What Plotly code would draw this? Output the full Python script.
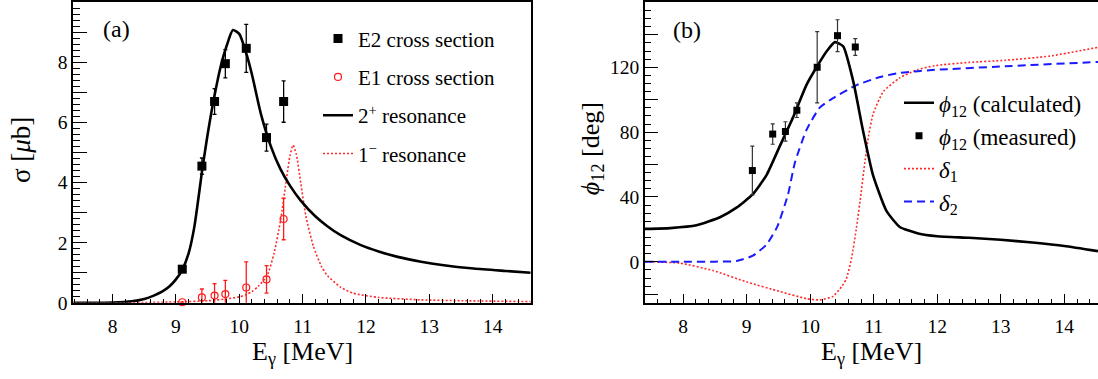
import plotly.graph_objects as go

# ---------------- Panel (a) data ----------------
e_pts = [9.10, 9.41, 9.61, 9.78, 10.11, 10.43, 10.70]
e2_sigma = [1.12, 4.55, 6.70, 7.96, 8.47, 5.50, 6.70]
e2_err = [0.08, 0.27, 0.43, 0.47, 0.80, 0.45, 0.69]
e1_sigma = [0.02, 0.18, 0.24, 0.29, 0.51, 0.78, 2.79]
e1_err = [0.0, 0.28, 0.40, 0.46, 0.85, 0.46, 0.69]

x_2plus = [7.38, 8.0, 8.3, 8.5, 8.65, 8.78, 8.9, 9.0, 9.1, 9.2, 9.29, 9.42, 9.5, 9.6,
           9.71, 9.8, 9.9, 10.0, 10.11, 10.2, 10.34, 10.5, 10.65, 10.8, 10.97, 11.2,
           11.39, 11.6, 11.91, 12.2, 12.5, 12.87, 13.2, 13.7, 14.2, 14.6]
y_2plus = [0.0, 0.01, 0.05, 0.13, 0.24, 0.37, 0.55, 0.78, 1.1, 1.65, 2.52, 4.5, 5.6, 6.8,
           7.9, 8.55, 9.08, 8.95, 8.3, 7.6, 6.3, 5.2, 4.45, 3.9, 3.4, 2.88,
           2.55, 2.25, 1.93, 1.71, 1.53, 1.37, 1.26, 1.14, 1.06, 1.0]

x_1minus = [7.38, 8.5, 9.0, 9.5, 9.8, 10.0, 10.1, 10.2, 10.3, 10.44, 10.55, 10.65, 10.75,
            10.8, 10.85, 10.9, 10.97, 11.05, 11.17, 11.3, 11.39, 11.6, 11.8, 12.2, 12.87,
            13.5, 14.6]
y_1minus = [0.0, 0.01, 0.03, 0.07, 0.13, 0.2, 0.27, 0.37, 0.55, 0.91, 1.66, 2.73, 4.2,
            4.9, 5.25, 4.95, 4.0, 2.9, 1.88, 1.2, 0.91, 0.52, 0.32, 0.18, 0.1,
            0.07, 0.04]

ya_tickvals = [0, 1, 2, 3, 4, 5, 6, 7, 8, 9, 10]
ya_ticktext = ["0", "", "2", "", "4", "", "6", "", "8", "", ""]

# ---------------- Panel (b) data ----------------
phi_meas_x = [9.09, 9.41, 9.61, 9.79, 10.11, 10.43, 10.71]
phi_meas = [56.3, 78.8, 80.4, 93.5, 120.0, 139.5, 132.5]
phi_err = [15.0, 6.3, 6.0, 4.5, 22.0, 9.8, 5.2]

x_phi = [7.4, 7.8, 8.21, 8.58, 8.84, 9.09, 9.31, 9.52, 9.73, 9.94, 10.10, 10.26, 10.39,
         10.52, 10.68, 10.83, 10.99, 11.2, 11.41, 11.7, 12.0, 12.5, 13.0, 13.5, 14.0, 14.53]
y_phi = [20.3, 20.8, 22.5, 27.5, 33.4, 41.4, 53.3, 71.2, 89.1, 109.0, 120.0, 129.9, 135.5,
         132.9, 111.0, 81.2, 53.3, 31.4, 21.5, 17.5, 15.8, 14.8, 13.6, 11.9, 9.8, 6.6]

x_d1 = [7.4, 7.95, 8.47, 9.0, 9.52, 9.94, 10.15, 10.36, 10.5, 10.57, 10.65, 10.73, 10.8,
        10.86, 10.92, 10.99, 11.15, 11.41, 11.69, 11.96, 12.5, 13.07, 13.77, 14.53]
y_d1 = [0.0, -0.8, -5.4, -12.4, -18.3, -22.7, -23.5, -21.3, -15.0, -10.4, 2.0, 21.5, 42.0,
        61.3, 78.0, 91.1, 105.0, 113.5, 118.5, 121.0, 123.0, 124.3, 126.9, 132.3]

x_d2 = [7.4, 8.0, 8.5, 8.84, 9.09, 9.31, 9.48, 9.65, 9.76, 9.94, 10.15, 10.36, 10.73,
        11.1, 11.4, 11.7, 11.96, 13.07, 14.53]
y_d2 = [0.0, 0.0, 0.1, 0.5, 3.6, 10.5, 21.5, 41.4, 61.3, 81.2, 95.1, 101.0, 109.0,
        114.0, 116.5, 117.6, 118.4, 120.6, 123.3]

yb_tickvals = [-20, 0, 20, 40, 60, 80, 100, 120, 140, 160]
yb_ticktext = ["", "0", "", "40", "", "80", "", "120", "", ""]

FONT = "Liberation Serif, Times New Roman, Times, DejaVu Serif, serif"
W, H = 1098, 379

fig = go.Figure()

# panel (a) curves
fig.add_trace(go.Scatter(x=x_1minus, y=y_1minus, mode="lines", name="1<sup>\u2212</sup> resonance",
                         line=dict(color="#ff2a2a", width=1.6, dash="2px,2px", shape="spline", smoothing=0.6),
                         legend="legend", legendrank=4, legendgroup="a4", xaxis="x", yaxis="y"))
fig.add_trace(go.Scatter(x=x_2plus, y=y_2plus, mode="lines", name="2<sup>+</sup> resonance",
                         line=dict(color="black", width=2.6, shape="spline", smoothing=0.6),
                         legend="legend", legendrank=3, legendgroup="a3", xaxis="x", yaxis="y"))
fig.add_trace(go.Scatter(x=e_pts, y=e1_sigma, mode="markers", name="E1 cross section",
                         marker=dict(symbol="circle-open", size=7, color="#ff1a1a", line=dict(width=1.2)),
                         error_y=dict(type="data", array=e1_err, width=2, thickness=1.3, color="#ff1a1a"),
                         cliponaxis=False,
                         legend="legend", legendrank=2, legendgroup="a2", xaxis="x", yaxis="y"))
fig.add_trace(go.Scatter(x=e_pts, y=e2_sigma, mode="markers", name="E2 cross section",
                         marker=dict(symbol="square", size=9, color="black"),
                         error_y=dict(type="data", array=e2_err, width=2, thickness=1.3, color="black"),
                         cliponaxis=False,
                         legend="legend", legendrank=1, legendgroup="a1", xaxis="x", yaxis="y"))

# panel (b) curves
fig.add_trace(go.Scatter(x=x_d1, y=y_d1, mode="lines", name="<i>\u03b4</i><sub>1</sub>",
                         line=dict(color="#ff2a2a", width=1.6, dash="2px,2px", shape="spline", smoothing=0.5),
                         legend="legend2", legendrank=3, legendgroup="b3", xaxis="x2", yaxis="y2"))
fig.add_trace(go.Scatter(x=x_d2, y=y_d2, mode="lines", name="<i>\u03b4</i><sub>2</sub>",
                         line=dict(color="#1a1aff", width=2, dash="8px,5px", shape="spline", smoothing=0.5),
                         legend="legend2", legendrank=4, legendgroup="b4", xaxis="x2", yaxis="y2"))
fig.add_trace(go.Scatter(x=x_phi, y=y_phi, mode="lines", name="<i>\u03d5</i><sub>12</sub> (calculated)",
                         line=dict(color="black", width=2.6, shape="spline", smoothing=0.5),
                         legend="legend2", legendrank=1, legendgroup="b1", xaxis="x2", yaxis="y2"))
fig.add_trace(go.Scatter(x=phi_meas_x, y=phi_meas, mode="markers", name="<i>\u03d5</i><sub>12</sub> (measured)",
                         marker=dict(symbol="square", size=7, color="black"),
                         error_y=dict(type="data", array=phi_err, width=2, thickness=1.2, color="#333333"),
                         cliponaxis=False,
                         legend="legend2", legendrank=2, legendgroup="b2", xaxis="x2", yaxis="y2"))

xa_dom = [73.3 / W, 530.7 / W]
xb_dom = [645.0 / W, 1.0]
y_dom = [1 - 311.7 / H, 1 - 0.8 / H]

tickfont = dict(family=FONT, size=19.5, color="black")

def xaxis_cfg(dom, rng, anchor):
    return dict(domain=dom, range=rng, anchor=anchor, dtick=1, tick0=0,
                ticks="inside", ticklen=9, tickwidth=1.2, tickcolor="black",
                minor=dict(dtick=0.2, tick0=0, ticks="inside", ticklen=4.5, tickwidth=1, tickcolor="black"),
                showline=True, linecolor="black", linewidth=1.6, mirror=True,
                showgrid=False, zeroline=False, tickfont=tickfont, ticklabelstandoff=5)

fig.update_layout(
    width=W, height=H,
    margin=dict(l=0, r=0, t=0, b=0),
    paper_bgcolor="white", plot_bgcolor="white",
    font=dict(family=FONT, color="black"),
    xaxis=xaxis_cfg(xa_dom, [7.38, 14.6], "y"),
    xaxis2=xaxis_cfg(xb_dom, [7.4, 14.53], "y2"),
    yaxis=dict(domain=y_dom, range=[0, 10.02], anchor="x",
               tickmode="array", tickvals=ya_tickvals, ticktext=ya_ticktext,
               ticks="inside", ticklen=14, tickwidth=1.2, tickcolor="black",
               minor=dict(dtick=0.2, tick0=0, ticks="inside", ticklen=7, tickwidth=1, tickcolor="black"),
               showline=True, linecolor="black", linewidth=1.6, mirror=True,
               showgrid=False, zeroline=False, tickfont=tickfont),
    yaxis2=dict(domain=y_dom, range=[-25.3, 160.4], anchor="x2",
                tickmode="array", tickvals=yb_tickvals, ticktext=yb_ticktext,
                ticks="inside", ticklen=13, tickwidth=1.2, tickcolor="black",
                minor=dict(dtick=5, tick0=0, ticks="inside", ticklen=6, tickwidth=1, tickcolor="black"),
                showline=True, linecolor="black", linewidth=1.6, mirror=False,
                showgrid=False, zeroline=False, tickfont=tickfont),
    legend=dict(x=318 / W, y=1 - 18 / H, xanchor="left", yanchor="top",
                font=dict(family=FONT, size=21, color="black"),
                bgcolor="rgba(0,0,0,0)", tracegroupgap=8, itemwidth=30),
    legend2=dict(x=899 / W, y=1 - 83 / H, xanchor="left", yanchor="top",
                 font=dict(family=FONT, size=23, color="black"),
                 bgcolor="rgba(0,0,0,0)", tracegroupgap=0, itemwidth=30),
    showlegend=True,
)

ann = [
    dict(text="(a)", x=116 / W, y=1 - 29 / H, font=dict(size=24)),
    dict(text="(b)", x=687 / W, y=1 - 30 / H, font=dict(size=24)),
    dict(text="E<sub>\u03b3</sub> [MeV]", x=302 / W, y=1 - 363 / H, font=dict(size=26)),
    dict(text="E<sub>\u03b3</sub> [MeV]", x=871 / W, y=1 - 363 / H, font=dict(size=26)),
    dict(text="\u03c3 [<i>\u03bc</i>b]", x=21 / W, y=1 - 154 / H, font=dict(size=27), textangle=-90),
    dict(text="<i>\u03d5</i><sub>12</sub> [deg]", x=592 / W, y=1 - 153 / H, font=dict(size=26), textangle=-90),
]
for a in ann:
    a.update(xref="paper", yref="paper", showarrow=False, xanchor="center", yanchor="middle")
    a["font"].update(family=FONT, color="black")
    fig.add_annotation(**a)

fig.write_html("out.html", config={"displayModeBar": False},
               post_script="document.documentElement.style.margin='0';document.body.style.margin='0';document.body.style.padding='0';document.body.style.overflow='hidden';")
